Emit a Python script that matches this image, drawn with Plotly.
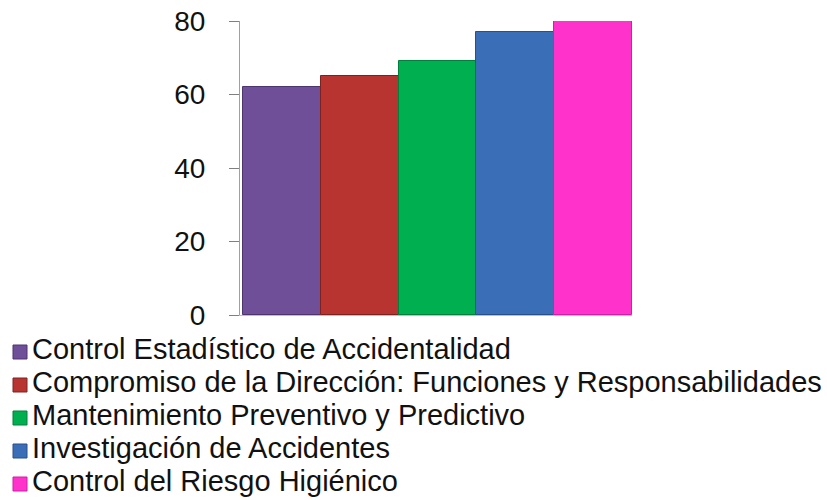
import plotly.graph_objects as go

categories = [
    "Control Estadístico de Accidentalidad",
    "Compromiso de la Dirección: Funciones y Responsabilidades",
    "Mantenimiento Preventivo y Predictivo",
    "Investigación de Accidentes",
    "Control del Riesgo Higiénico",
]
values = [62, 65, 69, 77, 80]
colors = ["#6E4F98", "#B83431", "#00AF50", "#3A6FB8", "#FF33CC"]
edge_colors = ["#4E3570", "#7E2220", "#00803A", "#28508A", "#D01EA6"]
tick_vals = [0, 20, 40, 60, 80]

W_FIG, H_FIG = 827, 500
L, R, T, B = 240, 195, 21, 185
PW, PH = W_FIG - L - R, H_FIG - T - B

def px_x(p):
    return (p - L) / PW

def px_y(p):
    return (H_FIG - B - p) / PH

fig = go.Figure()
for name, v, c, ec in zip(categories, values, colors, edge_colors):
    fig.add_trace(go.Bar(
        x=[0], y=[v], name=name,
        marker=dict(color=c, line=dict(color=ec, width=1)),
        showlegend=False,
    ))

# manual legend
for i, (name, c, ec) in enumerate(zip(categories, colors, edge_colors)):
    cy = 349 + i * 33.0
    fig.add_shape(type="rect", xref="paper", yref="paper",
                  x0=px_x(13), x1=px_x(27), y0=px_y(cy - 4), y1=px_y(cy + 10),
                  fillcolor=c, line=dict(color=ec, width=1))
    fig.add_annotation(xref="paper", yref="paper", x=px_x(30), y=px_y(cy),
                       xanchor="left", yanchor="middle", text=name,
                       showarrow=False,
                       font=dict(family="Liberation Sans, Arial", size=29, color="#111111"))

fig.update_layout(
    width=W_FIG, height=H_FIG,
    margin=dict(l=L, r=R, t=T, b=B, pad=0, autoexpand=False),
    barmode="group", bargap=0, bargroupgap=0,
    plot_bgcolor="white", paper_bgcolor="white",
    font=dict(family="Liberation Sans, Arial", size=28, color="#111111"),
    xaxis=dict(range=[-0.508, 0.5], showticklabels=False, ticks="",
               showgrid=False, zeroline=False, showline=True,
               linecolor="#BFBFBF", linewidth=1, automargin=False),
    yaxis=dict(range=[0, 80], tickvals=tick_vals, showgrid=False,
               zeroline=False, showline=True, linecolor="#A0A0A0",
               linewidth=1, ticks="outside", ticklen=10, tickcolor="#808080",
               ticklabelstandoff=18, automargin=False),
)

fig.write_html("out.html")
